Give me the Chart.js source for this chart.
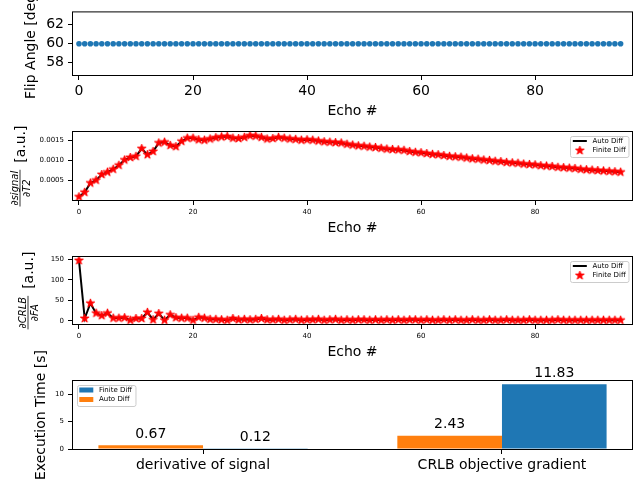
<!DOCTYPE html>
<html>
<head>
<meta charset="utf-8">
<script src="https://cdn.jsdelivr.net/npm/chart.js@4/dist/chart.umd.min.js"></script>
<style>
  html, body { margin: 0; padding: 0; background: #fff; }
  #page { position: relative; width: 640px; height: 480px; overflow: hidden; }
  canvas { position: absolute; left: 0; }
</style>
</head>
<body>
<div id="page">
  <canvas id="flip" width="640" height="125" style="top:0px"></canvas>
  <canvas id="signal" width="640" height="120" style="top:120px"></canvas>
  <canvas id="crlb" width="640" height="125" style="top:240px"></canvas>
  <canvas id="timing" width="640" height="140" style="top:340px"></canvas>
</div>
<script>
// echo index on the x axis of the three top panels
const ECHOES = [
    0, 1, 2, 3, 4, 5, 6, 7, 8, 9, 10, 11, 12, 13, 14, 15,
    16, 17, 18, 19, 20, 21, 22, 23, 24, 25, 26, 27, 28, 29, 30, 31,
    32, 33, 34, 35, 36, 37, 38, 39, 40, 41, 42, 43, 44, 45, 46, 47,
    48, 49, 50, 51, 52, 53, 54, 55, 56, 57, 58, 59, 60, 61, 62, 63,
    64, 65, 66, 67, 68, 69, 70, 71, 72, 73, 74, 75, 76, 77, 78, 79,
    80, 81, 82, 83, 84, 85, 86, 87, 88, 89, 90, 91, 92, 93, 94, 95
]
const ECHO_TICKS = [0, 20, 40, 60, 80]

const FLIP_ANGLE = [
    60, 60, 60, 60, 60, 60, 60, 60, 60, 60, 60, 60, 60, 60, 60, 60,
    60, 60, 60, 60, 60, 60, 60, 60, 60, 60, 60, 60, 60, 60, 60, 60,
    60, 60, 60, 60, 60, 60, 60, 60, 60, 60, 60, 60, 60, 60, 60, 60,
    60, 60, 60, 60, 60, 60, 60, 60, 60, 60, 60, 60, 60, 60, 60, 60,
    60, 60, 60, 60, 60, 60, 60, 60, 60, 60, 60, 60, 60, 60, 60, 60,
    60, 60, 60, 60, 60, 60, 60, 60, 60, 60, 60, 60, 60, 60, 60, 60
]
const FLIP_TICKS = [58, 60, 62]

// d signal / d T2 (auto diff and finite diff lie on top of each other)
const D_SIGNAL = [
    0.00010, 0.00021, 0.00044, 0.00051, 0.00065, 0.00071, 0.00078, 0.00088,
    0.00101, 0.00107, 0.00110, 0.00129, 0.00114, 0.00122, 0.00143, 0.00145,
    0.00137, 0.00134, 0.00147, 0.00155, 0.00155, 0.00151, 0.00150, 0.00153,
    0.00156, 0.00158, 0.00159, 0.00155, 0.00154, 0.00157, 0.00161, 0.00160,
    0.00157, 0.00153, 0.00154, 0.00157, 0.00155, 0.00153, 0.00152, 0.00150,
    0.00151, 0.00150, 0.00148, 0.00146, 0.00145, 0.00144, 0.00143, 0.00140,
    0.00138, 0.00136, 0.00135, 0.00133, 0.00132, 0.00130, 0.00128, 0.00127,
    0.00126, 0.00125, 0.00122, 0.00120, 0.00119, 0.00117, 0.00115, 0.00114,
    0.00112, 0.00110, 0.00109, 0.00108, 0.00106, 0.00104, 0.00103, 0.00101,
    0.00100, 0.00098, 0.00097, 0.00095, 0.00094, 0.00093, 0.00091, 0.00090,
    0.00089, 0.00087, 0.00086, 0.00085, 0.00083, 0.00082, 0.00081, 0.00080,
    0.00078, 0.00077, 0.00076, 0.00075, 0.00074, 0.00073, 0.00072, 0.00071
]
const SIGNAL_TICKS = [0.0005, 0.0010, 0.0015]

// d CRLB / d FA
const D_CRLB = [
    147, 6, 43, 19, 13, 19, 7, 7, 8, 2, 6, 6, 21, 3, 18, 2,
    15, 8, 7, 7, 2, 9, 7, 4, 4, 3, 2, 6, 3, 4, 3, 4,
    6, 3, 3, 4, 2, 3, 4, 2, 3, 3, 4, 2, 3, 4, 2, 3,
    2, 3, 3, 2, 3, 2, 3, 2, 3, 2, 3, 3, 2, 3, 2, 2,
    3, 2, 3, 2, 2, 3, 2, 2, 3, 2, 2, 3, 2, 2, 2, 3,
    2, 2, 2, 2, 3, 2, 2, 2, 2, 2, 2, 2, 2, 2, 2, 2
]
const CRLB_TICKS = [0, 50, 100, 150]

// execution times [s]
const METHODS = ['derivative of signal', 'CRLB objective gradient']
const AUTO_TIME = [0.67, 2.43]
const FINITE_TIME = [0.12, 11.83]
const TIME_TICKS = [0, 5, 10]

const FONT = '"DejaVu Sans"'
const BLUE = '#1f77b4'
const ORANGE = '#ff7f0e'
const RED = '#ff0000'

Chart.defaults.font.family = 'DejaVu Sans'
Chart.defaults.color = '#000'

function makeStar(size, r, color) {
    const c = document.createElement('canvas')
    c.width = c.height = size
    const g = c.getContext('2d')
    const ri = r * 0.382
    g.beginPath()
    for (let i = 0; i < 10; i++) {
        const rr = i % 2 ? ri : r
        const a = -Math.PI / 2 + i * Math.PI / 5
        g.lineTo(size / 2 + rr * Math.cos(a), size / 2 + rr * Math.sin(a))
    }
    g.closePath()
    g.fillStyle = color
    g.strokeStyle = color
    g.lineWidth = 1
    g.fill()
    g.stroke()
    return c
}
const STAR = makeStar(11, 4.5, RED)

function fixedTicks(values) {
    return scale => { scale.ticks = values.map(v => ({ value: v })) }
}

function xAxis(opts) {
    return {
        type: 'linear',
        min: opts.min,
        max: opts.max,
        offset: false,
        afterBuildTicks: fixedTicks(opts.ticks),
        afterFit: s => { s.height = opts.height },
        grid: { offset: false, drawOnChartArea: false, tickLength: 5, color: '#000' },
        border: { display: false },
        ticks: {
            color: '#000', padding: 3, maxRotation: 0, autoSkip: false,
            font: { size: opts.fontSize },
            callback: opts.label || (v => v)
        },
        title: {
            display: !!opts.title, text: opts.title, color: '#000',
            font: { size: 14 }, padding: { top: 0, bottom: opts.titlePad || 0 }
        }
    }
}

function yAxis(opts) {
    return {
        type: 'linear',
        min: opts.min,
        max: opts.max,
        afterBuildTicks: fixedTicks(opts.ticks),
        afterFit: s => { s.width = 73 },
        grid: { drawOnChartArea: false, tickLength: 5, color: '#000' },
        border: { display: false },
        ticks: {
            color: '#000', padding: 4, autoSkip: false,
            font: { size: opts.fontSize },
            callback: opts.label || (v => v)
        }
    }
}

// box round the plot area, as matplotlib draws it
const frame = {
    id: 'frame',
    afterDatasetsDraw(chart) {
        const { ctx, chartArea: a } = chart
        ctx.save()
        ctx.strokeStyle = '#000'
        ctx.lineWidth = 1
        ctx.strokeRect(a.left - 0.5, a.top - 0.5, a.width + 1, a.height + 1)
        ctx.restore()
    }
}

function drawLegend(ctx, a, corner, items) {
    ctx.save()
    ctx.font = '7px ' + FONT
    const tw = Math.max(...items.map(it => ctx.measureText(it.text).width))
    const w = 2.8 + 14 + 5.6 + tw + 2.8
    const h = 21
    const x = corner === 'right' ? a.right - 3.5 - w : a.left + 3.5
    const y = a.top + 4
    ctx.fillStyle = 'rgba(255,255,255,0.8)'
    ctx.strokeStyle = '#cccccc'
    ctx.lineWidth = 1
    ctx.beginPath()
    ctx.roundRect(Math.round(x) + 0.5, Math.round(y) + 0.5, w, h, 2)
    ctx.fill()
    ctx.stroke()
    items.forEach((it, i) => {
        const cy = y + 5 + i * 9.5
        const hx = x + 2.8
        if (it.kind === 'line') {
            ctx.strokeStyle = it.color
            ctx.lineWidth = 2
            ctx.beginPath()
            ctx.moveTo(hx, cy)
            ctx.lineTo(hx + 14, cy)
            ctx.stroke()
        } else if (it.kind === 'star') {
            ctx.drawImage(STAR, hx + 7 - 5.5, cy - 5.5)
        } else {
            ctx.fillStyle = it.color
            ctx.fillRect(hx, cy - 2.5, 14, 5)
        }
        ctx.fillStyle = '#000'
        ctx.textBaseline = 'middle'
        ctx.textAlign = 'left'
        ctx.fillText(it.text, hx + 14 + 5.6, cy)
    })
    ctx.restore()
}

const DIFF_ITEMS = [
    { kind: 'line', color: '#000', text: 'Auto Diff' },
    { kind: 'star', text: 'Finite Diff' }
]

function plainTitle(text, x) {
    return {
        id: 'ytitle',
        afterDraw(chart) {
            const { ctx, chartArea: a } = chart
            ctx.save()
            ctx.translate(x, (a.top + a.bottom) / 2)
            ctx.rotate(-Math.PI / 2)
            ctx.font = '14px ' + FONT
            ctx.fillStyle = '#000'
            ctx.textAlign = 'center'
            ctx.textBaseline = 'middle'
            ctx.fillText(text, 0, 0)
            ctx.restore()
        }
    }
}

function fracTitle(num, den, x) {
    return {
        id: 'ytitle',
        afterDraw(chart) {
            const { ctx, chartArea: a } = chart
            ctx.save()
            ctx.translate(x, (a.top + a.bottom) / 2)
            ctx.rotate(-Math.PI / 2)
            ctx.fillStyle = '#000'
            ctx.strokeStyle = '#000'
            const small = 'italic 10px ' + FONT
            ctx.font = small
            const fw = Math.max(ctx.measureText(num).width, ctx.measureText(den).width) + 2
            ctx.font = '14px ' + FONT
            const unit = '[a.u.]'
            const gap = 7
            const uw = ctx.measureText(unit).width
            const start = -(fw + gap + uw) / 2
            ctx.textAlign = 'left'
            ctx.textBaseline = 'middle'
            ctx.fillText(unit, start + fw + gap, 0)
            ctx.lineWidth = 0.8
            ctx.beginPath()
            ctx.moveTo(start, -1)
            ctx.lineTo(start + fw, -1)
            ctx.stroke()
            ctx.font = small
            ctx.textAlign = 'center'
            ctx.textBaseline = 'alphabetic'
            ctx.fillText(num, start + fw / 2, -3.5)
            ctx.fillText(den, start + fw / 2, 8.5)
            ctx.restore()
        }
    }
}

const base = {
    responsive: false,
    animation: false,
    events: [],
    devicePixelRatio: 1,
    plugins: { legend: { display: false }, tooltip: { enabled: false } }
}

// panel 1: flip angle
new Chart(document.getElementById('flip'), {
    type: 'line',
    data: {
        labels: ECHOES,
        datasets: [{
            data: FLIP_ANGLE,
            showLine: false,
            pointRadius: 2.8,
            pointBorderWidth: 0,
            pointBackgroundColor: BLUE
        }]
    },
    options: {
        ...base,
        layout: { padding: { top: 8, right: 8, left: 0, bottom: 0 } },
        scales: {
            x: xAxis({ min: -1.05, max: 97, ticks: ECHO_TICKS, height: 50, fontSize: 14, title: 'Echo #', titlePad: 5.6 }),
            y: yAxis({ min: 56.7, max: 63.3, ticks: FLIP_TICKS, fontSize: 14 })
        }
    },
    plugins: [frame, plainTitle('Flip Angle [deg]', 31)]
})

// panel 2: derivative of the signal
new Chart(document.getElementById('signal'), {
    type: 'line',
    data: {
        labels: ECHOES,
        datasets: [{
            label: 'Finite Diff',
            data: D_SIGNAL,
            showLine: false,
            pointStyle: STAR,
            order: 0
        }, {
            label: 'Auto Diff',
            data: D_SIGNAL,
            borderColor: '#000',
            borderWidth: 2,
            pointRadius: 0,
            order: 1
        }]
    },
    options: {
        ...base,
        layout: { padding: { top: 12, right: 8, left: 0, bottom: 0 } },
        scales: {
            x: xAxis({ min: -1.05, max: 97, ticks: ECHO_TICKS, height: 40, fontSize: 7, title: 'Echo #', titlePad: 3.6 }),
            y: yAxis({ min: 0.00002, max: 0.0017, ticks: SIGNAL_TICKS, fontSize: 7, label: v => v.toFixed(4) })
        }
    },
    plugins: [frame, fracTitle('∂signal', '∂T2', 21), {
        id: 'legend2',
        afterDraw: chart => drawLegend(chart.ctx, chart.chartArea, 'right', DIFF_ITEMS)
    }]
})

// panel 3: derivative of the CRLB
new Chart(document.getElementById('crlb'), {
    type: 'line',
    data: {
        labels: ECHOES,
        datasets: [{
            label: 'Finite Diff',
            data: D_CRLB,
            showLine: false,
            pointStyle: STAR,
            order: 0
        }, {
            label: 'Auto Diff',
            data: D_CRLB,
            borderColor: '#000',
            borderWidth: 2,
            pointRadius: 0,
            order: 1
        }]
    },
    options: {
        ...base,
        layout: { padding: { top: 17, right: 8, left: 0, bottom: 0 } },
        scales: {
            x: xAxis({ min: -1.05, max: 97, ticks: ECHO_TICKS, height: 41, fontSize: 7, title: 'Echo #', titlePad: 4.6 }),
            y: yAxis({ min: -7.4, max: 155.5, ticks: CRLB_TICKS, fontSize: 7 })
        }
    },
    plugins: [frame, fracTitle('∂CRLB', '∂FA', 29), {
        id: 'legend3',
        afterDraw: chart => drawLegend(chart.ctx, chart.chartArea, 'right', DIFF_ITEMS)
    }]
})

// panel 4: execution time
new Chart(document.getElementById('timing'), {
    type: 'bar',
    data: {
        datasets: [{
            label: 'Auto Diff',
            data: METHODS.map((m, i) => ({ x: i, y: AUTO_TIME[i] })),
            backgroundColor: ORANGE
        }, {
            label: 'Finite Diff',
            data: METHODS.map((m, i) => ({ x: i, y: FINITE_TIME[i] })),
            backgroundColor: BLUE
        }]
    },
    options: {
        ...base,
        categoryPercentage: 0.7,
        barPercentage: 1,
        layout: { padding: { top: 41, right: 8, left: 0, bottom: 0 } },
        scales: {
            x: xAxis({ min: -0.435, max: 1.435, ticks: [0, 1], height: 31, fontSize: 14, label: (v, i) => METHODS[i] }),
            y: yAxis({ min: 0, max: 12.42, ticks: TIME_TICKS, fontSize: 7 })
        }
    },
    plugins: [frame, plainTitle('Execution Time [s]', 41), {
        id: 'values',
        afterDatasetsDraw(chart) {
            const ctx = chart.ctx
            ctx.save()
            ctx.font = '14px ' + FONT
            ctx.fillStyle = '#000'
            ctx.textAlign = 'center'
            ctx.textBaseline = 'alphabetic'
            chart.data.datasets.forEach((ds, i) => {
                chart.getDatasetMeta(i).data.forEach((bar, j) => {
                    ctx.fillText(ds.data[j].y.toFixed(2), bar.x, bar.y - 7.5)
                })
            })
            ctx.restore()
        }
    }, {
        id: 'legend4',
        afterDraw: chart => drawLegend(chart.ctx, chart.chartArea, 'left', [
            { kind: 'patch', color: BLUE, text: 'Finite Diff' },
            { kind: 'patch', color: ORANGE, text: 'Auto Diff' }
        ])
    }]
})
</script>
</body>
</html>
